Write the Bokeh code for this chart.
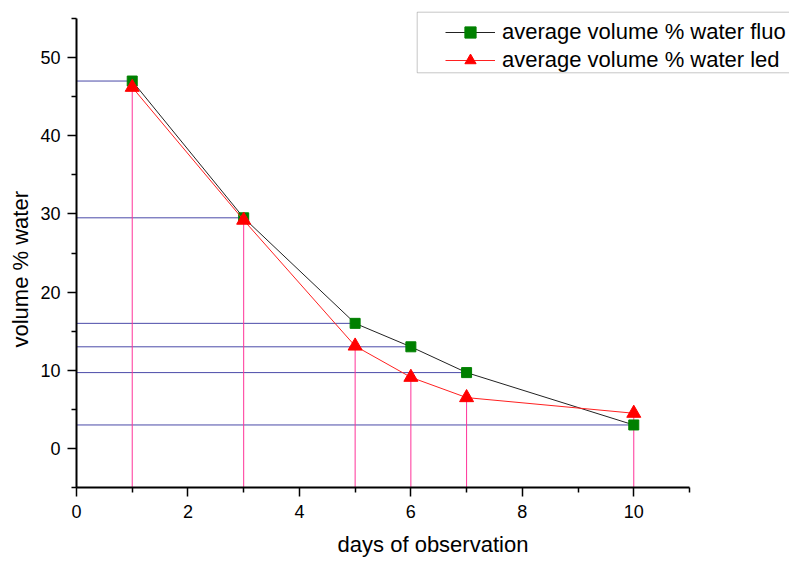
from bokeh.plotting import figure
from bokeh.models import (Range1d, FixedTicker, Legend, LegendItem, BoxAnnotation, Title)
from bokeh.embed import file_html
from bokeh.resources import INLINE

# ---- data ----
days = [1, 3, 5, 6, 7, 10]
water_fluo = [47.0, 29.5, 16.0, 13.0, 9.7, 3.0]
water_led = [46.2, 29.2, 13.1, 9.1, 6.5, 4.5]
x_ticks = [0, 2, 4, 6, 8, 10]
x_minor = [1, 3, 5, 7, 9, 11]
y_ticks = [0, 10, 20, 30, 40, 50]
y_minor = [-5, 5, 15, 25, 35, 45, 55]
x_lo, x_hi = 0, 11
y_lo, y_hi = -5, 55
label_fluo = "average volume % water fluo"
label_led = "average volume % water led"
x_title = "days of observation"
y_title = "volume % water"

FONT = "Liberation Sans"
W, H = 789, 561
LEFT, BOTTOM = 76, 74          # margins for the axes
AXIS_W, AXIS_H = 613, 469      # pixel extent of the drawn axes
px_x = AXIS_W / (x_hi - x_lo)
px_y = AXIS_H / (y_hi - y_lo)
view_x_hi = x_lo + (W - LEFT) / px_x   # frame extends to the right edge (legend area)
view_y_hi = y_lo + (H - BOTTOM) / px_y  # frame extends to the top edge

p = figure(width=W, height=H, output_backend="svg", toolbar_location=None,
           x_range=Range1d(x_lo, view_x_hi), y_range=Range1d(y_lo, view_y_hi),
           min_border_left=LEFT, min_border_right=0, min_border_top=0,
           min_border_bottom=BOTTOM)
p.outline_line_color = None
p.xgrid.visible = False
p.ygrid.visible = False
p.background_fill_color = "white"
p.border_fill_color = "white"

for ax, maj, mino, bnds in ((p.xaxis[0], x_ticks, x_minor, (x_lo, x_hi)),
                            (p.yaxis[0], y_ticks, y_minor, (y_lo, y_hi))):
    ax.ticker = FixedTicker(ticks=maj, minor_ticks=mino)
    ax.bounds = bnds
    ax.axis_line_width = 2
    ax.axis_line_color = "black"
    ax.major_tick_line_width = 1.5
    ax.minor_tick_line_width = 1.5
    ax.major_tick_line_color = "black"
    ax.minor_tick_line_color = "black"
    ax.major_tick_in = 0
    ax.major_tick_out = 9
    ax.minor_tick_in = 0
    ax.minor_tick_out = 5
    ax.major_label_text_font = FONT
    ax.major_label_text_font_size = "18px"
    ax.major_label_text_color = "black"
p.xaxis.major_label_standoff = 8
p.yaxis.major_label_standoff = 7

p.xaxis.axis_label = x_title
p.xaxis.axis_label_text_font = FONT
p.xaxis.axis_label_text_font_size = "22px"
p.xaxis.axis_label_text_font_style = "normal"
p.xaxis.axis_label_text_color = "black"
p.xaxis.axis_label_standoff = 11

ytitle = Title(text=y_title, align="left", offset=140, standoff=10,
               text_font=FONT, text_font_size="22px", text_font_style="normal",
               text_color="black")
p.add_layout(ytitle, "left")

# drop lines
p.segment(x0=[x_lo] * len(days), y0=water_fluo, x1=days, y1=water_fluo,
          line_color="#4A4AA8", line_width=1)
p.segment(x0=days, y0=[y_lo] * len(days), x1=days, y1=water_led,
          line_color="#FF3399", line_width=1)

# series
l1 = p.line(days, water_fluo, line_color="#222222", line_width=1)
m1 = p.scatter(days, water_fluo, marker="square", size=10,
               fill_color="#008000", line_color="#008000")
l2 = p.line(days, water_led, line_color="#FF2020", line_width=1)
m2 = p.scatter(days, water_led, marker="triangle", size=14,
               fill_color="#FF0000", line_color="#FF0000")

# legend frame
box = BoxAnnotation(left=340.7, right=730, top=475.3, bottom=414.7,
                    left_units="screen", right_units="screen",
                    top_units="screen", bottom_units="screen",
                    fill_color="white", fill_alpha=1.0,
                    line_color="#444444", line_width=1)
p.add_layout(box)

legend = Legend(items=[LegendItem(label=label_fluo, renderers=[l1, m1]),
                       LegendItem(label=label_led, renderers=[l2, m2])],
                location=(369, 412.7), padding=0, spacing=0, margin=0,
                glyph_width=50, glyph_height=28, label_height=28,
                label_standoff=7, label_text_font=FONT,
                label_text_font_size="22px", label_text_color="black",
                border_line_color=None, background_fill_alpha=0)
p.add_layout(legend, "center")

open("out.html", "w").write(file_html(p, INLINE))
